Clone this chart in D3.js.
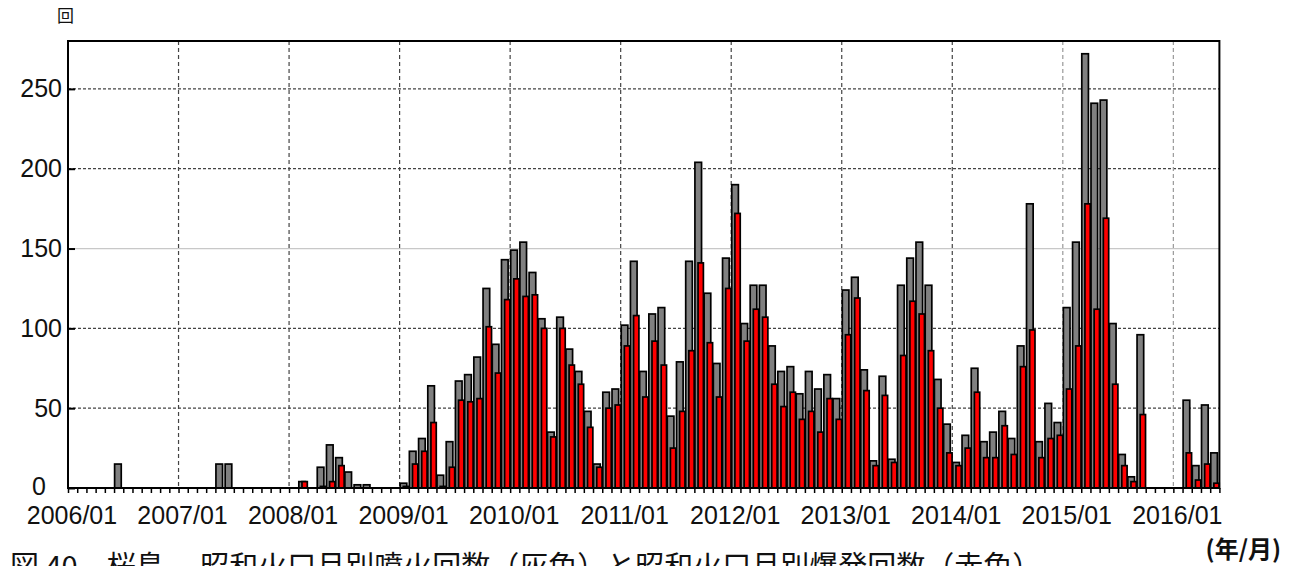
<!DOCTYPE html>
<html>
<head>
<meta charset="utf-8">
<script src="https://cdn.jsdelivr.net/npm/d3@7/dist/d3.min.js"></script>
<style>
  body { margin: 0; background: #fff; }
  svg { display: block; }
  .num { font-family: 'Liberation Sans', Arial, sans-serif; fill: #111; }
  .jp { font-family: 'Noto Sans CJK JP', sans-serif; fill: #111; }
</style>
</head>
<body>
<div id="chart"></div>
<script>
const startYear = 2006

// Showa crater, monthly eruption counts (gray), Jan..Dec per row
const eruptions = [
  0, 0, 0, 0, 0, 15, 0, 0, 0, 0, 0, 0, // 2006
  0, 0, 0, 0, 15, 15, 0, 0, 0, 0, 0, 0, // 2007
  0, 4, 0, 13, 27, 19, 10, 2, 2, 0, 0, 0, // 2008
  3, 23, 31, 64, 8, 29, 67, 71, 82, 125, 90, 143, // 2009
  149, 154, 135, 106, 35, 107, 87, 73, 48, 15, 60, 62, // 2010
  102, 142, 73, 109, 113, 45, 79, 142, 204, 122, 78, 144, // 2011
  190, 103, 127, 127, 89, 73, 76, 59, 73, 62, 71, 56, // 2012
  124, 132, 74, 17, 70, 18, 127, 144, 154, 127, 68, 40, // 2013
  16, 33, 75, 29, 35, 48, 31, 89, 178, 29, 53, 41, // 2014
  113, 154, 272, 241, 243, 103, 21, 7, 96, 0, 0, 0, // 2015
  0, 55, 14, 52, 22 // 2016
]

// Showa crater, monthly explosion counts (red)
const explosions = [
  0, 0, 0, 0, 0, 0, 0, 0, 0, 0, 0, 0, // 2006
  0, 0, 0, 0, 0, 0, 0, 0, 0, 0, 0, 0, // 2007
  0, 4, 0, 1, 4, 14, 0, 0, 0, 0, 0, 0, // 2008
  1, 15, 23, 41, 1, 13, 55, 54, 56, 101, 72, 118, // 2009
  131, 120, 121, 100, 32, 100, 77, 65, 38, 13, 50, 52, // 2010
  89, 108, 57, 92, 77, 25, 48, 86, 141, 91, 57, 125, // 2011
  172, 92, 112, 107, 65, 51, 60, 43, 48, 35, 56, 43, // 2012
  96, 119, 61, 14, 58, 16, 83, 117, 109, 86, 50, 22, // 2013
  14, 25, 60, 19, 19, 39, 21, 76, 99, 19, 31, 33, // 2014
  62, 89, 178, 112, 169, 65, 14, 4, 46, 0, 0, 0, // 2015
  0, 22, 5, 15, 3 // 2016
]

const yearLabels = ['2006/01', '2007/01', '2008/01', '2009/01', '2010/01', '2011/01',
  '2012/01', '2013/01', '2014/01', '2015/01', '2016/01']
const yTicks = [0, 50, 100, 150, 200, 250]

const months = eruptions.map((d, i) =>
  `${startYear + Math.floor(i / 12)}/${String(i % 12 + 1).padStart(2, '0')}`)

const width = 1291
const height = 566
const plot = { left: 68, right: 1219.4, top: 41, bottom: 488 }

const svg = d3.select('#chart').append('svg')
  .attr('width', width)
  .attr('height', height)

const x = d3.scaleLinear().domain([0, months.length]).range([plot.left, plot.right])
const y = d3.scaleLinear().domain([0, 280]).range([plot.bottom, plot.top])
const bw = x(1) - x(0)

// grid
svg.append('g')
  .selectAll('line')
  .data(yTicks.filter(d => d > 0))
  .join('line')
    .attr('x1', plot.left)
    .attr('x2', plot.right)
    .attr('y1', d => y(d))
    .attr('y2', d => y(d))
    .style('stroke', d => d === 150 ? '#c8c8c8' : '#444')
    .style('stroke-width', 1.2)
    .style('stroke-dasharray', d => d === 150 ? null : '3,2')

svg.append('g')
  .selectAll('line')
  .data(yearLabels.slice(1))
  .join('line')
    .attr('x1', d => x(months.indexOf(d)))
    .attr('x2', d => x(months.indexOf(d)))
    .attr('y1', plot.top)
    .attr('y2', plot.bottom)
    .style('stroke', (d, i) => i >= 8 ? '#999' : '#444')
    .style('stroke-width', 1.2)
    .style('stroke-dasharray', '4,3')

// bars: gray series first, red series drawn over it
svg.append('g')
  .selectAll('rect')
  .data(eruptions)
  .join('rect')
    .attr('x', (d, i) => x(i) + bw * 0.06)
    .attr('width', bw * 0.72)
    .attr('y', d => y(d))
    .attr('height', d => y(0) - y(d))
    .style('fill', '#808080')
    .style('stroke', '#000')
    .style('stroke-width', 1.7)

svg.append('g')
  .selectAll('rect')
  .data(explosions)
  .join('rect')
    .attr('x', (d, i) => x(i) + bw * 0.4)
    .attr('width', bw * 0.58)
    .attr('y', d => y(d))
    .attr('height', d => y(0) - y(d))
    .style('fill', '#ff0000')
    .style('stroke', '#000')
    .style('stroke-width', 1.7)

// frame
svg.append('rect')
  .attr('x', plot.left)
  .attr('y', plot.top)
  .attr('width', plot.right - plot.left)
  .attr('height', plot.bottom - plot.top)
  .style('fill', 'none')
  .style('stroke', '#000')
  .style('stroke-width', 2)

// y axis
const yAxis = svg.append('g')
  .attr('transform', `translate(${plot.left},0)`)
  .call(d3.axisLeft(y).tickValues(yTicks).tickSize(-7).tickPadding(6))
yAxis.select('.domain').remove()
yAxis.selectAll('line').style('stroke', '#000').style('stroke-width', 2)
yAxis.selectAll('text')
  .attr('class', 'num')
  .style('font-size', '25px')
  .attr('x', d => d === 0 ? -22 : -6)
  .attr('dy', d => d === 0 ? '0.25em' : '0.32em')

// x axis: month ticks
const xAxis = svg.append('g')
  .attr('transform', `translate(0,${plot.bottom})`)
  .call(d3.axisBottom(x).tickValues(d3.range(0, months.length + 1)).tickSize(5).tickFormat(''))
xAxis.select('.domain').remove()
xAxis.selectAll('line').style('stroke', '#000').style('stroke-width', 1.5)

svg.append('g')
  .selectAll('text')
  .data(yearLabels)
  .join('text')
    .attr('class', 'num')
    .attr('x', d => x(months.indexOf(d)) + 4)
    .attr('y', 524)
    .attr('text-anchor', 'middle')
    .style('font-size', '25px')
    .text(d => d)

// unit labels and caption
svg.append('text')
  .attr('class', 'jp')
  .attr('x', 57)
  .attr('y', 22)
  .style('font-size', '17px')
  .text('回')

svg.append('text')
  .attr('class', 'jp')
  .attr('x', 1281)
  .attr('y', 558)
  .attr('text-anchor', 'end')
  .style('font-size', '24px')
  .style('font-weight', 'bold')
  .text('(年/月)')

svg.append('text')
  .attr('class', 'jp')
  .attr('x', 10)
  .attr('y', 577)
  .style('font-size', '29px')
  .text('図 40　桜島　 昭和火口月別噴火回数（灰色）と昭和火口月別爆発回数（赤色）')
</script>
</body>
</html>
